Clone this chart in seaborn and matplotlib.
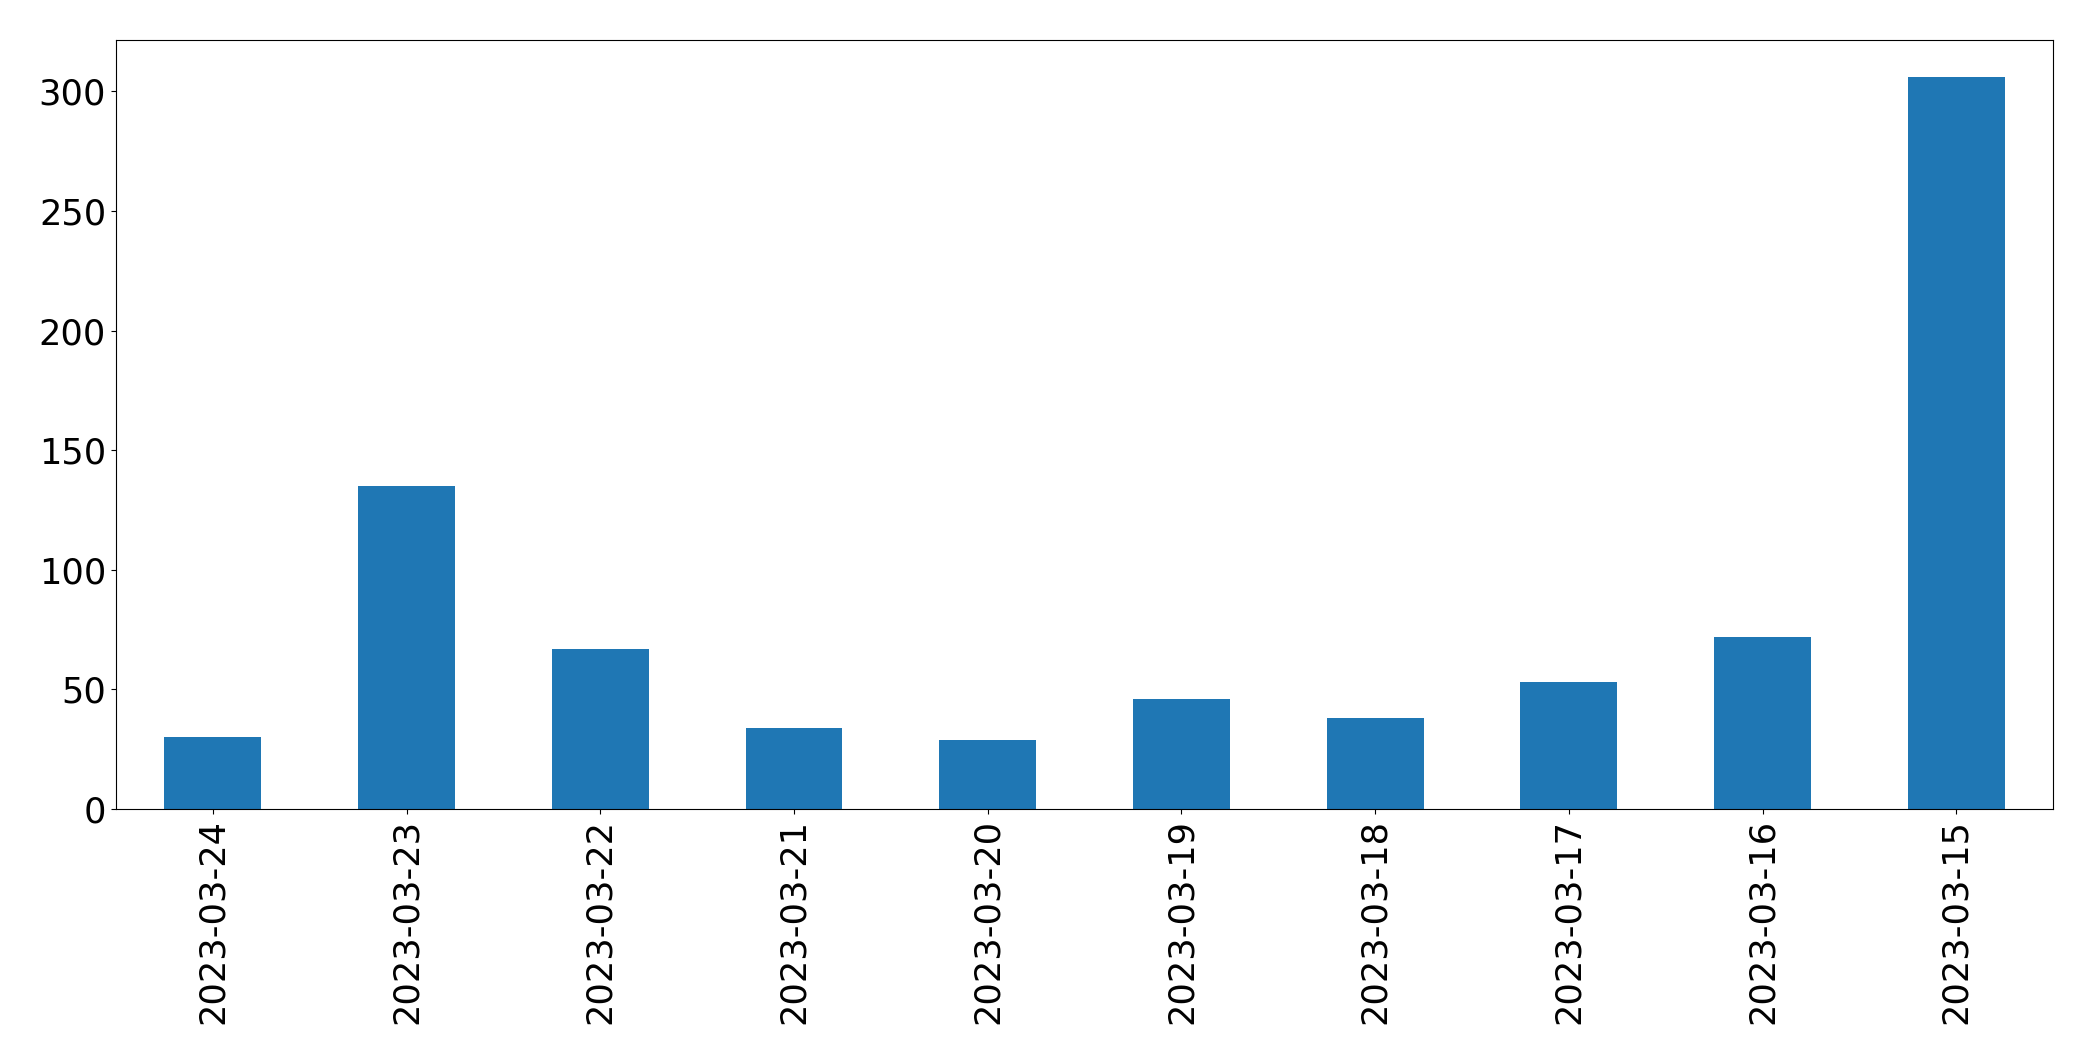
import matplotlib
matplotlib.use("Agg")
import matplotlib.pyplot as plt
import seaborn as sns
import pandas as pd

# Data
dates = ['2023-03-24', '2023-03-23', '2023-03-22', '2023-03-21', '2023-03-20',
         '2023-03-19', '2023-03-18', '2023-03-17', '2023-03-16', '2023-03-15']
counts = [30, 135, 67, 34, 29, 46, 38, 53, 72, 306]

df = pd.DataFrame({'date': dates, 'count': counts})

plt.rcParams['font.family'] = ['DejaVu Sans']
plt.rcParams['font.size'] = 25

fig = plt.figure(figsize=(20.93, 10.61), dpi=100)
ax = fig.add_axes([0.0554, 0.2375, 0.9256, 0.7245])

sns.barplot(data=df, x='date', y='count', order=dates, color='#1f77b4',
            saturation=1, width=0.5, linewidth=0, ax=ax)

ax.set_xlabel('')
ax.set_ylabel('')
ax.set_xlim(-0.5, len(dates) - 0.5)
ax.tick_params(axis='both', labelsize=25.3)
ax.tick_params(axis='x', labelrotation=90)
for s in ax.spines.values():
    s.set_color('black')

fig.savefig('out.png', dpi=100)
